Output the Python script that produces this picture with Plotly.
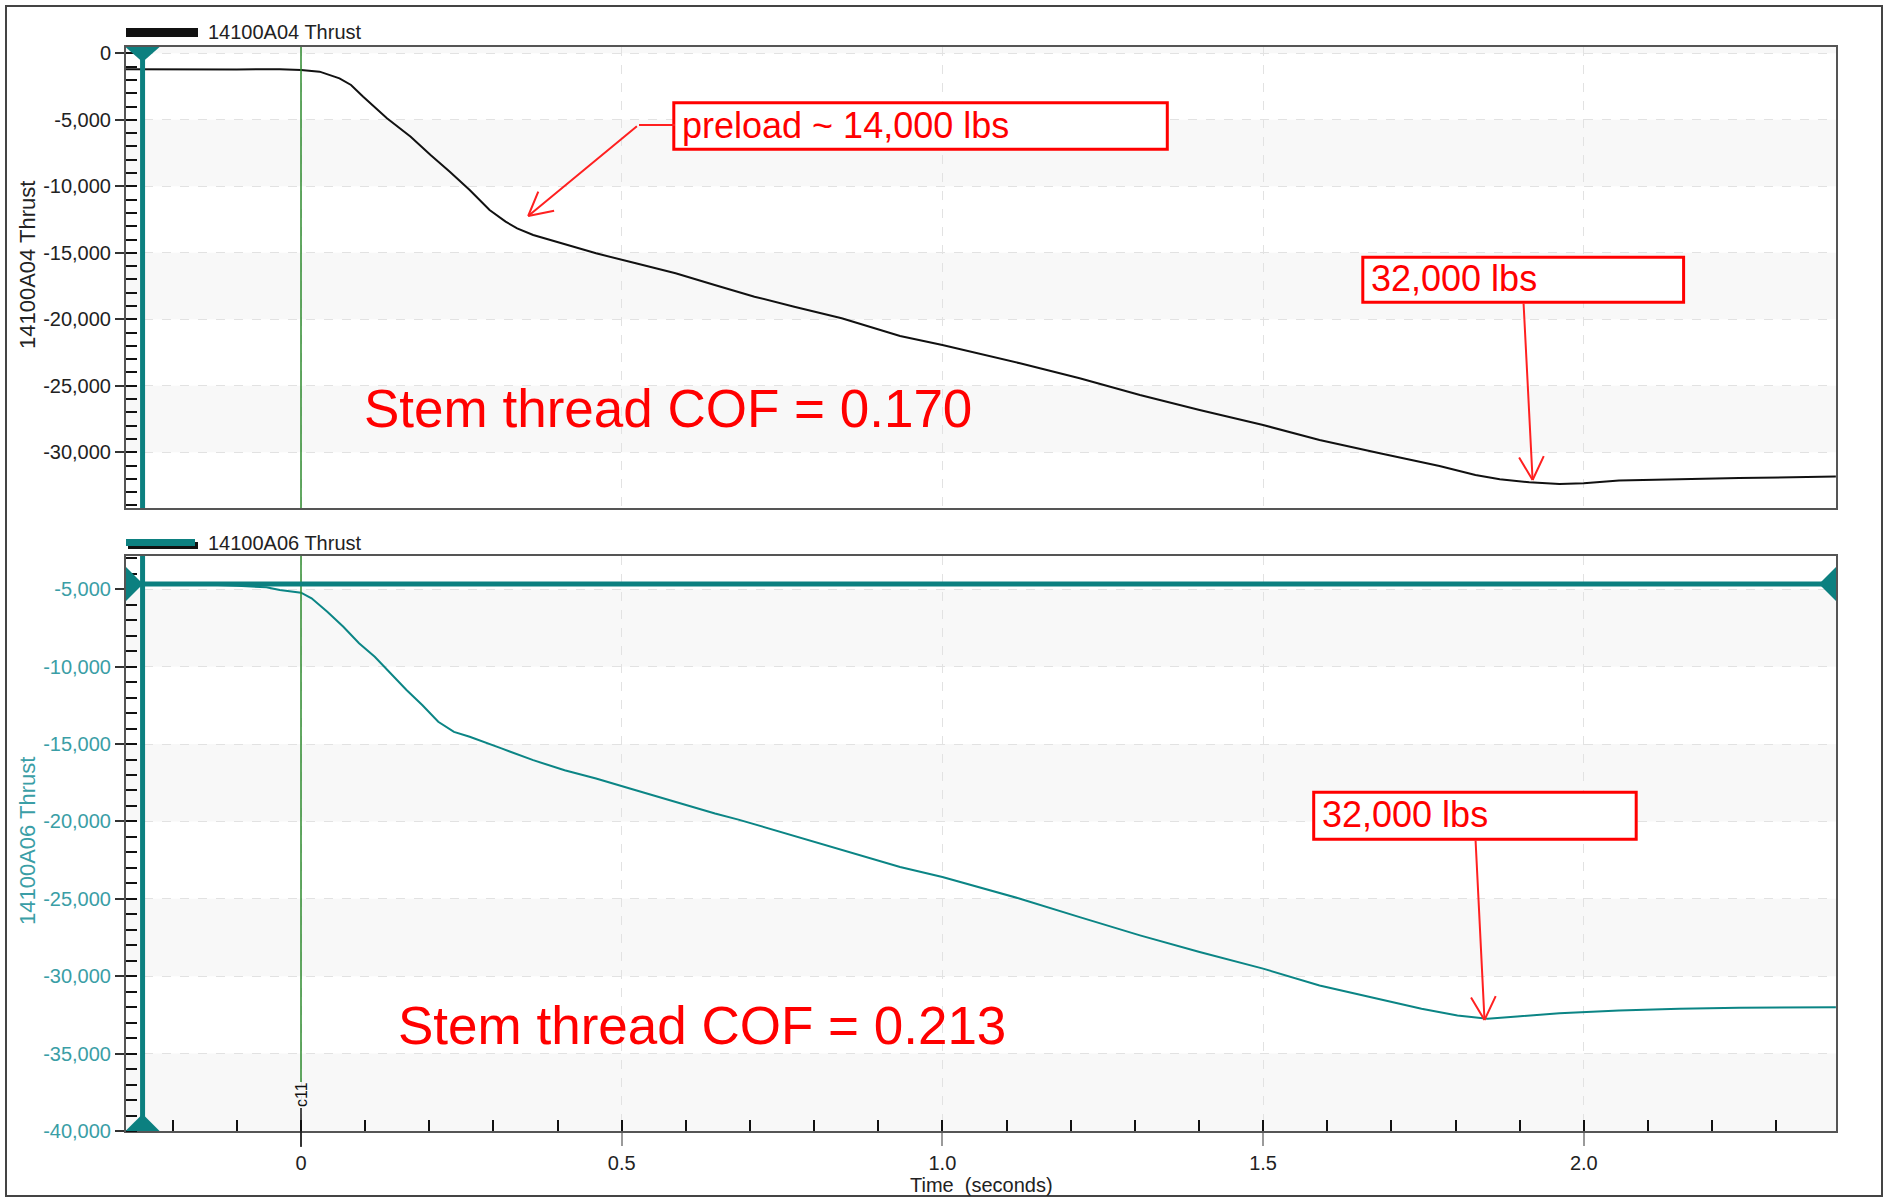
import math
import plotly.graph_objects as go

# ---------------- data ----------------
t_top = [-0.273, -0.2, -0.1, -0.033, 0.0, 0.029, 0.060, 0.078, 0.097, 0.134, 0.171, 0.202,
         0.232, 0.263, 0.294, 0.319, 0.337, 0.362, 0.399, 0.460, 0.522, 0.584, 0.645, 0.707,
         0.769, 0.843, 0.934, 1.0, 1.121, 1.214, 1.308, 1.401, 1.5, 1.588, 1.682, 1.775,
         1.831, 1.869, 1.915, 1.962, 2.0, 2.055, 2.149, 2.242, 2.393]
v_top = [-1200, -1220, -1210, -1200, -1250, -1380, -1880, -2380, -3260, -4890, -6270, -7650,
         -8900, -10280, -11780, -12660, -13160, -13660, -14160, -15040, -15790, -16540, -17420, -18300,
         -19050, -19920, -21260, -21930, -23310, -24440, -25690, -26820, -27950, -29080, -30080, -31030,
         -31710, -32030, -32260, -32380, -32330, -32130, -32030, -31930, -31830]

t_bot = [-0.273, -0.2, -0.13, -0.1, -0.054, -0.033, 0.0, 0.0165, 0.041, 0.066, 0.0905, 0.115,
         0.140, 0.1645, 0.189, 0.214, 0.2385, 0.263, 0.3125, 0.362, 0.411, 0.460, 0.522, 0.584,
         0.6455, 0.682, 0.934, 1.0, 1.121, 1.214, 1.308, 1.401, 1.5, 1.588, 1.682, 1.747,
         1.803, 1.850, 1.896, 1.962, 2.055, 2.149, 2.242, 2.393]
v_bot = [-4700, -4700, -4720, -4780, -4870, -5045, -5220, -5580, -6450, -7420, -8490, -9360,
         -10430, -11510, -12480, -13560, -14210, -14530, -15280, -16040, -16690, -17220, -17980, -18740,
         -19490, -19880, -22940, -23590, -24990, -26180, -27360, -28440, -29510, -30600, -31460, -32100,
         -32540, -32750, -32600, -32390, -32210, -32100, -32040, -32000]

x_tickvals = [0, 0.5, 1.0, 1.5, 2.0]
x_ticktext = ["0", "0.5", "1.0", "1.5", "2.0"]
y1_tickvals = [0, -5000, -10000, -15000, -20000, -25000, -30000]
y1_ticktext = ["0", "-5,000", "-10,000", "-15,000", "-20,000", "-25,000", "-30,000"]
y2_tickvals = [-5000, -10000, -15000, -20000, -25000, -30000, -35000, -40000]
y2_ticktext = ["-5,000", "-10,000", "-15,000", "-20,000", "-25,000", "-30,000", "-35,000", "-40,000"]

top_name = "14100A04 Thrust"
bot_name = "14100A06 Thrust"
x_title = "Time\u00a0 (seconds)"
cof_top = "Stem thread COF = 0.170"
cof_bot = "Stem thread COF = 0.213"
preload_text = "preload ~ 14,000 lbs"
peak_text = "32,000 lbs"
cursor_label = "c11"

cursor_t = -0.247       # vertical cursor position (s)
cursor_h = -4660        # horizontal cursor level, lower panel
marker_t = 0.0          # green marker

bands_top = [(0, 475), (-10000, -5000), (-20000, -15000), (-30000, -25000)]
bands_bot = [(-10000, -5000), (-20000, -15000), (-30000, -25000), (-40000, -35000)]

# ---------------- layout geometry ----------------
W, H = 1886, 1201
L, R, T, B = 126, 1836, 47, 1131
TOP_BOTTOM_PX = 508
BOT_TOP_PX = 556


def px(x):
    return (x - L) / (R - L)


def py(y):
    return (B - y) / (B - T)


FONT = "Liberation Sans, Arial, sans-serif"
TEAL = "#0c8080"
TEAL_LINE = "#0b8585"
TEAL_TXT = "#3a9ea6"
RED = "#ff0000"
GRID = "#e2e2e2"
BAND = "#f8f8f8"

fig = go.Figure()
fig.add_trace(go.Scatter(x=t_top, y=v_top, mode="lines", line=dict(color="#111111", width=2),
                         xaxis="x", yaxis="y", showlegend=False, hoverinfo="skip"))
fig.add_trace(go.Scatter(x=t_bot, y=v_bot, mode="lines", line=dict(color=TEAL_LINE, width=2),
                         xaxis="x2", yaxis="y2", showlegend=False, hoverinfo="skip"))

x_range = [(L - 301) / 641.4, (R - 301) / 641.4]

common_axis = dict(showline=True, mirror=True, linecolor="#555555", linewidth=2, zeroline=False,
                   showgrid=True, gridcolor=GRID, griddash="dash", gridwidth=1)

fig.update_layout(
    width=W, height=H,
    margin=dict(l=L, r=W - R, t=T, b=H - B),
    paper_bgcolor="white", plot_bgcolor="white",
    font=dict(family=FONT, size=20, color="#222222"),
    showlegend=False,
    xaxis=dict(domain=[0, 1], anchor="y", range=x_range, tickmode="array", tickvals=x_tickvals,
               showticklabels=False, ticks="", **common_axis),
    yaxis=dict(domain=[py(TOP_BOTTOM_PX), 1], anchor="x", range=[-34190, 475],
               tickmode="array", tickvals=y1_tickvals, ticktext=y1_ticktext,
               ticks="outside", ticklen=9, tickwidth=2, tickcolor="#333333",
               tickfont=dict(size=20, color="#222222", family=FONT),
               minor=dict(ticks="inside", ticklen=11, tickwidth=2, tickcolor="#111111",
                          tickmode="linear", tick0=0, dtick=1000, showgrid=False),
               **common_axis),
    xaxis2=dict(domain=[0, 1], anchor="y2", range=x_range, tickmode="array", tickvals=x_tickvals,
                ticktext=x_ticktext, ticks="outside", ticklen=13, tickwidth=1.5, tickcolor="#9a9a9a",
                tickfont=dict(size=20, color="#222222", family=FONT),
                minor=dict(ticks="inside", ticklen=11, tickwidth=2, tickcolor="#111111",
                           tickmode="linear", tick0=0, dtick=0.1, showgrid=False),
                **common_axis),
    yaxis2=dict(domain=[0, py(BOT_TOP_PX)], anchor="x2", range=[-40000, -2850],
                tickmode="array", tickvals=y2_tickvals, ticktext=y2_ticktext,
                ticks="outside", ticklen=9, tickwidth=2, tickcolor="#333333",
                tickfont=dict(size=20, color=TEAL_TXT, family=FONT),
                minor=dict(ticks="inside", ticklen=11, tickwidth=2, tickcolor="#111111",
                           tickmode="linear", tick0=0, dtick=1000, showgrid=False),
                **common_axis),
)

shapes = []
# background bands
for y0, y1 in bands_top:
    shapes.append(dict(type="rect", xref="x domain", yref="y", x0=0, x1=1, y0=y0, y1=y1,
                       fillcolor=BAND, line=dict(width=0), layer="below"))
for y0, y1 in bands_bot:
    shapes.append(dict(type="rect", xref="x2 domain", yref="y2", x0=0, x1=1, y0=y0, y1=y1,
                       fillcolor=BAND, line=dict(width=0), layer="below"))

# green marker line
shapes.append(dict(type="line", xref="x", yref="y domain", x0=marker_t, x1=marker_t, y0=0, y1=1,
                   line=dict(color="#2e8b2e", width=1.5)))
shapes.append(dict(type="line", xref="x2", yref="paper", x0=marker_t, x1=marker_t,
                   y0=py(1082), y1=py(BOT_TOP_PX), line=dict(color="#2e8b2e", width=1.5)))
shapes.append(dict(type="line", xref="x2", yref="paper", x0=marker_t, x1=marker_t,
                   y0=py(1147), y1=py(1108), line=dict(color="#111111", width=1.5)))

# teal cursors
shapes.append(dict(type="line", xref="x", yref="y domain", x0=cursor_t, x1=cursor_t, y0=0, y1=1,
                   line=dict(color=TEAL, width=5)))
shapes.append(dict(type="line", xref="x2", yref="y2 domain", x0=cursor_t, x1=cursor_t, y0=0, y1=1,
                   line=dict(color=TEAL, width=5)))
shapes.append(dict(type="line", xref="x2 domain", yref="y2", x0=0, x1=1, y0=cursor_h, y1=cursor_h,
                   line=dict(color=TEAL, width=5)))
# cursor handles (pixel-sized triangles)
shapes.append(dict(type="path", xref="x", yref="paper", xsizemode="pixel", ysizemode="pixel",
                   xanchor=cursor_t, yanchor=1, path="M-17,0 L17,0 L0,-15 Z",
                   fillcolor=TEAL, line=dict(width=0)))
shapes.append(dict(type="path", xref="x2", yref="paper", xsizemode="pixel", ysizemode="pixel",
                   xanchor=cursor_t, yanchor=0, path="M-17,0 L17,0 L0,17 Z",
                   fillcolor=TEAL, line=dict(width=0)))
shapes.append(dict(type="path", xref="paper", yref="y2", xsizemode="pixel", ysizemode="pixel",
                   xanchor=0, yanchor=cursor_h, path="M0,-17 L0,17 L17,0 Z",
                   fillcolor=TEAL, line=dict(width=0)))
shapes.append(dict(type="path", xref="paper", yref="y2", xsizemode="pixel", ysizemode="pixel",
                   xanchor=1, yanchor=cursor_h, path="M0,-17 L0,17 L-17,0 Z",
                   fillcolor=TEAL, line=dict(width=0)))

# legend swatches above each panel
shapes.append(dict(type="rect", xref="paper", yref="paper", x0=px(126), x1=px(198), y0=py(37), y1=py(28),
                   fillcolor="#111111", line=dict(width=0)))
shapes.append(dict(type="rect", xref="paper", yref="paper", x0=px(128), x1=px(198), y0=py(549), y1=py(542),
                   fillcolor="#111111", line=dict(width=0)))
shapes.append(dict(type="rect", xref="paper", yref="paper", x0=px(126), x1=px(195), y0=py(546), y1=py(539),
                   fillcolor=TEAL, line=dict(width=0)))

# outer frame
shapes.append(dict(type="rect", xref="paper", yref="paper", x0=px(6), x1=px(1882), y0=py(1196), y1=py(6),
                   line=dict(color="#444444", width=2), fillcolor="rgba(0,0,0,0)"))

ann = []


def box(text, x0, y0, x1, y1):
    shapes.append(dict(type="rect", xref="paper", yref="paper", x0=px(x0), x1=px(x1),
                       y0=py(y1), y1=py(y0), line=dict(color=RED, width=3), fillcolor="white"))
    ann.append(dict(text=text, xref="paper", yref="paper", x=px(x0 + 6), y=py((y0 + y1) / 2 - 1),
                    xanchor="left", yanchor="middle", showarrow=False,
                    font=dict(size=36, color=RED)))


def arrow(tip, tail, head=True):
    out = [dict(text="", xref="paper", yref="paper", x=px(tip[0]), y=py(tip[1]),
                ax=tail[0] - tip[0], ay=tail[1] - tip[1], showarrow=True, arrowhead=0,
                arrowwidth=2, arrowcolor="#ff2020", standoff=0, startstandoff=0)]
    if head:
        dx, dy = tail[0] - tip[0], tail[1] - tip[1]
        n = math.hypot(dx, dy)
        ux, uy = dx / n, dy / n
        for sgn in (1, -1):
            a = math.radians(28) * sgn
            wx = ux * math.cos(a) - uy * math.sin(a)
            wy = ux * math.sin(a) + uy * math.cos(a)
            out.append(dict(text="", xref="paper", yref="paper", x=px(tip[0]), y=py(tip[1]),
                            ax=28 * wx, ay=28 * wy, showarrow=True, arrowhead=0,
                            arrowwidth=2, arrowcolor="#ff2020", standoff=0, startstandoff=0))
    return out


# legend/titles
ann.append(dict(text=top_name, xref="paper", yref="paper", x=px(206), y=py(32), xanchor="left",
                yanchor="middle", showarrow=False, font=dict(size=20, color="#222222")))
ann.append(dict(text=bot_name, xref="paper", yref="paper", x=px(206), y=py(543), xanchor="left",
                yanchor="middle", showarrow=False, font=dict(size=20, color="#222222")))
ann.append(dict(text=top_name, xref="paper", yref="paper", x=px(27), y=py(265), xanchor="center",
                yanchor="middle", textangle=-90, showarrow=False, font=dict(size=22, color="#222222")))
ann.append(dict(text=bot_name, xref="paper", yref="paper", x=px(27), y=py(841), xanchor="center",
                yanchor="middle", textangle=-90, showarrow=False, font=dict(size=22, color=TEAL_TXT)))
ann.append(dict(text=x_title, xref="paper", yref="paper", x=0.5, y=py(1185), xanchor="center",
                yanchor="middle", showarrow=False, font=dict(size=20, color="#222222")))
ann.append(dict(text=cursor_label, xref="x2", yref="paper", x=marker_t, y=py(1095), xanchor="center",
                yanchor="middle", textangle=-90, showarrow=False, font=dict(size=16, color="#111111")))

# COF labels
ann.append(dict(text=cof_top, xref="paper", yref="paper", x=px(362), y=py(408), xanchor="left",
                yanchor="middle", showarrow=False, font=dict(size=53, color=RED)))
ann.append(dict(text=cof_bot, xref="paper", yref="paper", x=px(396), y=py(1025), xanchor="left",
                yanchor="middle", showarrow=False, font=dict(size=53, color=RED)))

ann += arrow((528.2, 216.0), (638.4, 125.0))
ann += arrow((675.0, 125.0), (637.5, 125.0), head=False)
ann += arrow((1532.6, 480.0), (1523.5, 302.0))
ann += arrow((1484.5, 1020.0), (1475.5, 839.0))
box(preload_text, 673.8, 102.7, 1167.3, 149.3)
box(peak_text, 1362.8, 257.3, 1683.6, 302.3)
box(peak_text, 1313.7, 792.3, 1636.2, 839.3)

fig.update_layout(shapes=shapes, annotations=ann)

fig.write_html("out.html", config={"displayModeBar": False},
               post_script="document.body.style.margin='0';document.body.style.overflow='hidden';")
